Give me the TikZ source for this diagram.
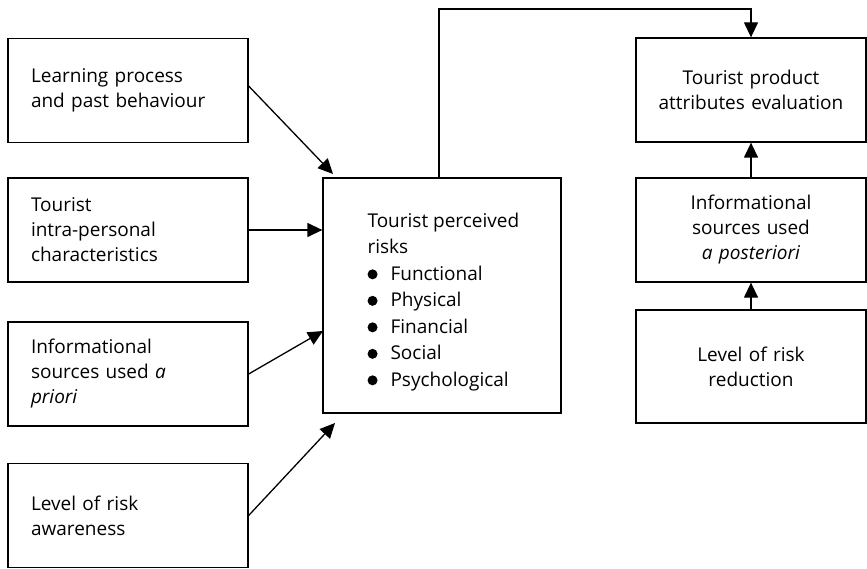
\documentclass[tikz,border=0pt]{standalone}
\usepackage{fontspec}
\setmainfont{Open Sans}
\usetikzlibrary{arrows.meta}
\newcommand\riskdot{\tikz[baseline=-0.6ex]\fill (0,0) circle[radius=5pt];}
\begin{document}
\begin{tikzpicture}[x=1pt,y=-1pt,
  every node/.style={font=\fontsize{19}{25}\selectfont},
  box/.style={draw, line width=1.3pt, rectangle, inner ysep=0pt},
  leftbox/.style={box, align=left, text width=194pt, inner xsep=23pt, minimum height=104pt},
  rightbox/.style={box, align=center, text width=218pt, inner xsep=6pt, minimum height=104pt},
  link/.style={line width=1.3pt, -{Triangle[length=15pt,width=14pt]}}]
\useasboundingbox (0,0) rectangle (867,569);

% left column: influences on perceived risk
\node[leftbox] (b1) at (128,90.5) {Learning process\\and past behaviour};
\node[leftbox] (b2) at (128,230) {Tourist\\intra-personal\\characteristics};
\node[leftbox] (b3) at (128,374) {Informational\\sources used \textit{a}\\\textit{priori}};
\node[leftbox] (b4) at (128,515.5) {Level of risk\\awareness};

% central box
\node[box, minimum width=238pt, minimum height=235pt, inner sep=0pt] (c) at (442,295.5) {};
\node[anchor=west, align=left, inner sep=0pt, font=\fontsize{19}{26.5}\selectfont] (ct)
  at ([xshift=45pt,yshift=-6.5pt]c.west)
  {Tourist perceived\\risks\\
   \riskdot\hspace{13pt}Functional\\
   \riskdot\hspace{13pt}Physical\\
   \riskdot\hspace{13pt}Financial\\
   \riskdot\hspace{13pt}Social\\
   \riskdot\hspace{13pt}Psychological};

% right column
\node[rightbox] (r1) at (751,90) {Tourist product\\attributes evaluation};
\node[rightbox] (r2) at (751,230) {Informational\\sources used\\\textit{a posteriori}};
\node[rightbox, minimum height=113pt] (r3) at (751,366.5) {Level of risk\\reduction};

% arrow end points on the central box
\coordinate (t1) at (333,174);
\coordinate (t3) at (323,331);
\coordinate (t4) at (335,423);
\coordinate (top) at (0,9);

\draw[link] ([yshift=4.5pt]b1.east) -- (t1);
\draw[link] (b2.east) -- (b2.east -| c.west);
\draw[link] (b3.east) -- (t3);
\draw[link] (b4.east) -- (t4);

\draw[link] ([xshift=-3pt]c.north) |- (r1.north |- top) -- (r1.north);
\draw[link] (r2.north) -- (r1.south);
\draw[link] (r3.north) -- (r2.south);
\end{tikzpicture}
\end{document}
